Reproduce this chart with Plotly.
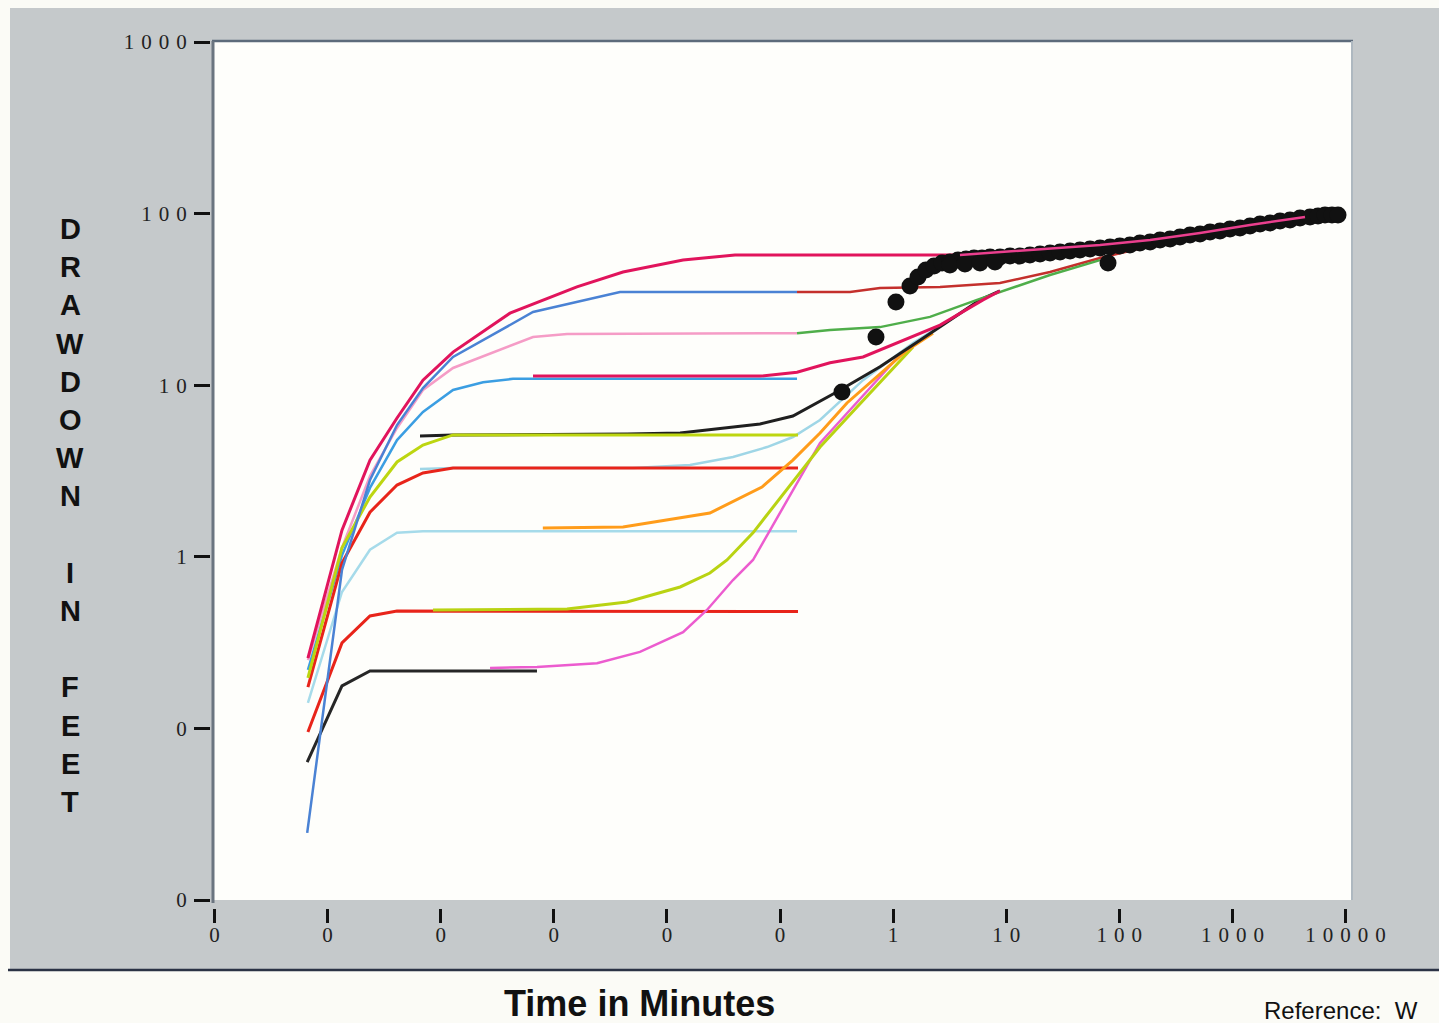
import math
import plotly.graph_objects as go

# ---------------- data (time in minutes, drawdown in feet) ----------------
# early curves (start at left, level off to plateaus)
crimson_t = [6.7e-6, 1.34e-5, 2.37e-5, 4.11e-5, 6.97e-5, 1.285e-4, 4.1e-4, 1.6e-3, 4.09e-3, 0.0139, 0.04, 3.9]
crimson_s = [0.257, 1.43, 3.66, 6.44, 10.7, 15.6, 26.3, 37.4, 45.7, 53.6, 57.4, 57.4]
theis_t = [3.9, 8.8, 24.4, 67.5, 187, 517, 1431, 4385]
theis_s = [57.4, 59.7, 62.2, 65.6, 70.2, 77.1, 85.8, 95.5]
blue_t = [6.6e-6, 1.0e-5, 1.34e-5, 2.37e-5, 4.11e-5, 6.97e-5, 1.285e-4, 6.55e-4, 3.85e-3, 0.1414]
blue_s = [0.0246, 0.191, 0.838, 2.80, 5.86, 9.63, 14.6, 26.7, 34.9, 34.9]
pink_t = [6.7e-6, 1.34e-5, 2.37e-5, 4.11e-5, 6.97e-5, 1.285e-4, 6.55e-4, 1.31e-3, 0.1414]
pink_s = [0.25, 1.13, 2.96, 5.63, 9.38, 12.6, 19.1, 19.9, 20.1]
ltblue_t = [6.7e-6, 1.34e-5, 2.37e-5, 4.11e-5, 6.97e-5, 1.285e-4, 2.37e-4, 4.36e-4, 0.1414]
ltblue_s = [0.219, 1.02, 2.52, 4.79, 6.98, 9.38, 10.4, 10.9, 10.9]
ygreen_t = [6.7e-6, 1.34e-5, 2.37e-5, 4.11e-5, 6.97e-5, 1.285e-4, 0.1443]
ygreen_s = [0.197, 1.13, 2.23, 3.57, 4.48, 5.13, 5.13]
red_t = [6.7e-6, 1.34e-5, 2.37e-5, 4.11e-5, 6.97e-5, 1.285e-4, 0.1443]
red_s = [0.174, 0.92, 1.82, 2.62, 3.08, 3.29, 3.29]
cyan_t = [6.7e-6, 1.34e-5, 2.37e-5, 4.11e-5, 6.97e-5, 0.1414]
cyan_s = [0.141, 0.624, 1.10, 1.38, 1.41, 1.41]
red2_t = [6.7e-6, 1.34e-5, 2.37e-5, 4.11e-5, 0.1443]
red2_s = [0.0953, 0.315, 0.452, 0.483, 0.48]
black2_t = [6.6e-6, 1.34e-5, 2.37e-5, 7.1e-4]
black2_s = [0.0637, 0.177, 0.216, 0.216]

# late curves (start on a plateau, rise to join the late-time curve)
darkred_t = [0.1414, 0.416, 0.766, 2.6, 8.8, 24.4, 67.5, 187]
darkred_s = [34.9, 34.9, 36.9, 37.4, 39.4, 45.7, 55.1, 64.7]
green_t = [0.1414, 0.277, 0.766, 2.12, 5.52, 8.8, 24.4, 67.5]
green_s = [20.1, 21.0, 21.8, 25.0, 31.4, 34.9, 43.9, 53.6]
crimson2_t = [6.55e-4, 0.0666, 0.1414, 0.277, 0.542, 1.083, 2.6, 6.24, 8.8]
crimson2_s = [11.3, 11.3, 11.9, 13.5, 14.6, 17.6, 22.4, 31.4, 35.4]
black_t = [6.56e-5, 1.285e-4, 4.44e-3, 0.0131, 0.0666, 0.130, 0.306, 0.766, 1.73, 5.87, 8.8]
black_s = [5.06, 5.13, 5.19, 5.27, 5.94, 6.61, 9.0, 12.8, 18.3, 31.4, 35.4]
cyanlate_t = [6.56e-5, 1.285e-4, 5.02e-3, 0.016, 0.0384, 0.0768, 0.1302, 0.2258, 0.5418, 1.5, 2.445]
cyanlate_s = [3.25, 3.29, 3.29, 3.43, 3.82, 4.36, 4.99, 6.27, 10.7, 17.6, 21.5]
orange_t = [8.0e-4, 4.09e-3, 0.024, 0.0693, 0.130, 0.226, 0.391, 1.33, 2.25]
orange_s = [1.47, 1.49, 1.80, 2.55, 3.66, 5.27, 7.88, 16.0, 20.1]
ygreen2_t = [8.55e-5, 1.31e-3, 4.44e-3, 0.0131, 0.024, 0.034, 0.0577, 0.226, 0.480, 1.5]
ygreen2_s = [0.49, 0.496, 0.545, 0.667, 0.804, 0.958, 1.38, 4.36, 7.46, 16.7]
magenta_t = [2.73e-4, 7.1e-4, 2.41e-3, 5.78e-3, 0.0139, 0.0226, 0.0384, 0.0577, 0.226, 1.15]
magenta_s = [0.225, 0.228, 0.24, 0.279, 0.364, 0.49, 0.732, 0.958, 4.61, 15.0]

# observed drawdown data
data_t = [0.353, 0.706, 1.06, 1.41, 1.66, 1.95, 2.30, 2.71, 3.18, 3.75, 4.41, 5.19, 6.11, 7.19,
          8.82, 10.8, 13.2, 16.2, 19.9, 24.4, 29.9, 36.7, 44.9, 55.1, 67.5, 79.5, 82.8, 101,
          124, 152, 187, 229, 281, 344, 422, 517, 634, 777, 952, 1167, 1431, 1754, 2150, 2636,
          3231, 3960, 4855, 5714, 6587, 7598, 8586, 3.18, 4.32, 5.87, 7.96]
data_s = [9.13, 19.1, 30.5, 37.9, 42.7, 46.9, 49.5, 51.5, 52.2, 53.6, 54.4, 55.1, 55.1, 55.9,
          55.9, 56.6, 56.6, 57.4, 58.2, 58.9, 59.7, 60.5, 61.4, 62.2, 63.0, 51.5, 63.9, 64.7,
          65.6, 67.4, 68.3, 70.2, 71.1, 73.1, 75.0, 76.0, 78.1, 79.1, 81.3, 82.4, 84.7, 87.0,
          88.1, 90.6, 91.8, 94.3, 95.5, 96.8, 98.1, 98.1, 98.1, 50.2, 50.9, 51.5, 52.2]

# axis ticks
x_tickvals = [1e-6, 1e-5, 1e-4, 1e-3, 1e-2, 1e-1, 1, 10, 100, 1000, 10000]
x_ticktext = ["0", "0", "0", "0", "0", "0", "1", "10", "100", "1000", "10000"]
y_tickvals = [0.01, 0.1, 1, 10, 100, 1000]
y_ticktext = ["0", "0", "1", "10", "100", "1000"]
y_title_letters = ["D", "R", "A", "W", "D", "O", "W", "N", "", "I", "N", "", "F", "E", "E", "T"]

SP = "\u2004"


def spaced(s):
    return SP.join(list(s))


# ---------------- layout geometry ----------------
W, H = 1439, 1023
L, R, T, B = 211, 1352, 41, 908
X_DEC = 113.1     # px per decade (x)
Y_DEC = 171.6     # px per decade (y)
x_rng = [-6 + (L - 214.5) / X_DEC, -6 + (R - 214.5) / X_DEC]
y_rng = [3 - (B - 42) / Y_DEC, 3 + (42 - T) / Y_DEC]


def px(xp):
    return (xp - L) / (R - L)


def py(yp):
    return (B - yp) / (B - T)


fig = go.Figure()


def line(t, s, color, width=3):
    fig.add_trace(go.Scatter(x=t, y=s, mode="lines",
                             line=dict(color=color, width=width),
                             hoverinfo="skip"))


line(cyan_t, cyan_s, "#a6dbea", 2.5)
line(cyanlate_t, cyanlate_s, "#9fd6e6", 2.5)
line(pink_t, pink_s, "#f59cc6", 2.5)
line(ltblue_t, ltblue_s, "#3b9ee2", 2.5)
line(red2_t, red2_s, "#e8241a", 3)
line(red_t, red_s, "#e8241a", 3)
line(black2_t, black2_s, "#262626", 3)
line(magenta_t, magenta_s, "#ec5ccf", 2.5)
line(ygreen2_t, ygreen2_s, "#b9d312", 3)
line(orange_t, orange_s, "#ff9c1a", 3)
line(black_t, black_s, "#1f1f1f", 3)
line(ygreen_t, ygreen_s, "#bdd610", 3)
line(blue_t, blue_s, "#4a82d4", 2.5)
line(darkred_t, darkred_s, "#c4302c", 2.5)
line(green_t, green_s, "#4fae4a", 2.5)
line(crimson2_t, crimson2_s, "#e1145c", 3)
line(crimson_t, crimson_s, "#e1145c", 3)

fig.add_trace(go.Scatter(x=data_t, y=data_s, mode="markers",
                         marker=dict(color="#111111", size=17, line=dict(width=0)),
                         hoverinfo="skip"))
line(theis_t, theis_s, "#ea3f8e", 2.5)

tickfont = dict(family="Liberation Serif", size=21, color="#222222")

fig.update_xaxes(type="log", range=x_rng, tickvals=x_tickvals,
                 ticktext=[spaced(v) for v in x_ticktext],
                 ticks="outside", ticklen=14, tickwidth=3, tickcolor="#111111",
                 ticklabelstandoff=-6,
                 showgrid=False, zeroline=False, showline=False, tickfont=tickfont)
fig.update_yaxes(type="log", range=y_rng, tickvals=y_tickvals,
                 ticktext=[spaced(v) for v in y_ticktext],
                 ticks="outside", ticklen=16, tickwidth=3, tickcolor="#111111",
                 ticklabelstandoff=3,
                 showgrid=False, zeroline=False, showline=False, tickfont=tickfont)

shapes = [
    # grey panel
    dict(type="rect", xref="paper", yref="paper", x0=px(10), x1=px(1445), y0=py(970), y1=py(8),
         fillcolor="#c5c9cb", line=dict(width=0), layer="below"),
    # white plotting area
    dict(type="rect", xref="paper", yref="paper", x0=px(214), x1=px(1352), y0=py(900), y1=py(41),
         fillcolor="#fefefb", line=dict(width=0), layer="below"),
    # frame lines
    dict(type="line", xref="paper", yref="paper", x0=px(212), x1=px(1353), y0=py(41), y1=py(41),
         line=dict(color="#5d6b7b", width=2.5), layer="below"),
    dict(type="line", xref="paper", yref="paper", x0=px(213), x1=px(213), y0=py(903), y1=py(41),
         line=dict(color="#6b7580", width=3), layer="below"),
    dict(type="line", xref="paper", yref="paper", x0=px(1352), x1=px(1352), y0=py(900), y1=py(41),
         line=dict(color="#aeb8c0", width=2), layer="below"),
    # bottom rule
    dict(type="line", xref="paper", yref="paper", x0=px(8), x1=px(1445), y0=py(970), y1=py(970),
         line=dict(color="#2b3245", width=2.5), layer="below"),
]

annotations = []
ypos = 229
for ch in y_title_letters:
    if ch:
        annotations.append(dict(text=ch, xref="paper", yref="paper", x=px(70), y=py(ypos),
                                xanchor="center", yanchor="middle", showarrow=False,
                                font=dict(family="Liberation Sans", size=29, color="#111111",
                                          weight="bold")))
    ypos += 38.2

annotations.append(dict(text="<b>Time in Minutes</b>", xref="paper", yref="paper",
                        x=px(639), y=py(1003), xanchor="center", yanchor="middle",
                        showarrow=False,
                        font=dict(family="Liberation Sans", size=36, color="#111111")))
annotations.append(dict(text="Reference:  W", xref="paper", yref="paper",
                        x=px(1262), y=py(1010), xanchor="left", yanchor="middle",
                        showarrow=False,
                        font=dict(family="Liberation Sans", size=24, color="#111111")))

fig.update_layout(width=W, height=H,
                  margin=dict(l=L, r=W - R, t=T, b=H - B, pad=0, autoexpand=False),
                  paper_bgcolor="#fbfbf6", plot_bgcolor="rgba(0,0,0,0)",
                  showlegend=False, shapes=shapes, annotations=annotations)

fig.write_html("out.html")
